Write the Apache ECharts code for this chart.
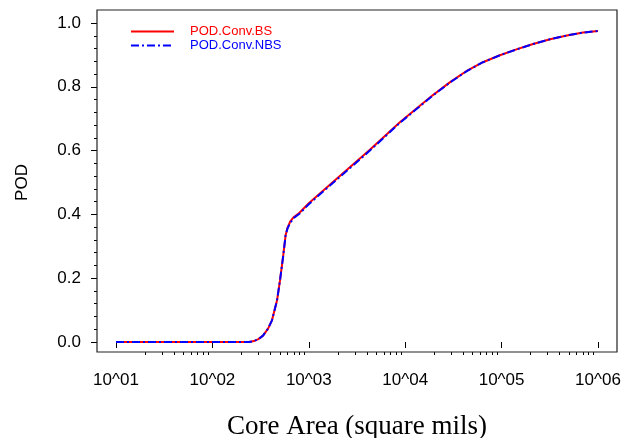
<!DOCTYPE html>
<html>
<head>
<meta charset="utf-8">
<script src="https://cdn.jsdelivr.net/npm/echarts@6/dist/echarts.min.js"></script>
<style>
  html, body { margin: 0; padding: 0; background: #fff; }
  #chart { width: 631px; height: 438px; }
</style>
</head>
<body>
<div id="chart"></div>
<script>
// Core area (square mils) at which POD was evaluated
const coreAreaBS = [10, 100, 200, 240, 270, 300, 335, 378, 415, 468, 502, 540, 575, 600, 640, 700, 800,
  1000, 2000, 4300, 8800, 13200, 19400, 29000, 44000, 64000, 96000, 145000, 212000, 318000, 476000, 700000, 1000000];
const podBS = [0, 0, 0, 0, 0.003, 0.009, 0.02, 0.042, 0.068, 0.13, 0.192, 0.265, 0.335, 0.357, 0.377, 0.392, 0.405,
  0.435, 0.515, 0.603, 0.689, 0.733, 0.774, 0.814, 0.851, 0.877, 0.899, 0.918, 0.934, 0.949, 0.961, 0.970, 0.975];

const coreAreaNBS = coreAreaBS;
const podNBS = [0, 0, 0, 0, 0.003, 0.009, 0.02, 0.042, 0.068, 0.13, 0.192, 0.265, 0.335, 0.355, 0.373, 0.389, 0.402,
  0.432, 0.512, 0.600, 0.687, 0.731, 0.773, 0.813, 0.850, 0.877, 0.899, 0.918, 0.934, 0.949, 0.961, 0.970, 0.975];

// Decade labels and minor (2..9 x 10^n) tick positions for the log axis
const decadeTicks = [10, 100, 1000, 10000, 100000, 1000000];
const decadeLabels = ['10^01', '10^02', '10^03', '10^04', '10^05', '10^06'];
const minorTicks = [];
for (let d = 10; d < 1000000; d *= 10) {
  for (let k = 2; k <= 9; k++) minorTicks.push(k * d);
}
// the minor tick axis is linear in decades (log10 of the area)
const minorTickExps = minorTicks.map(v => Math.log10(v));

const pairs = (xs, ys) => xs.map((x, i) => [x, ys[i]]);

const chart = echarts.init(document.getElementById('chart'), null, { renderer: 'canvas' });
const axisFont = { fontFamily: 'Liberation Sans, Arial, sans-serif', fontSize: 17, color: '#000' };

chart.setOption({
  animation: false,
  backgroundColor: '#fff',
  grid: { left: 116, right: 33, top: 23, bottom: 96, containLabel: false, outerBoundsMode: 'none' },
  legend: {
    orient: 'vertical',
    left: 125,
    top: 20,
    itemWidth: 43,
    itemHeight: 12,
    itemGap: 1,
    itemStyle: { opacity: 0 },
    textStyle: { fontFamily: 'Liberation Sans, Arial, sans-serif', fontSize: 13, padding: [0, 0, 0, 11] },
    data: [
      { name: 'POD.Conv.BS', textStyle: { color: '#ff0000' } },
      { name: 'POD.Conv.NBS', textStyle: { color: '#0000ff' } }
    ]
  },
  graphic: [{
    type: 'rect',
    shape: { x: 97, y: 10, width: 520, height: 342 },
    style: { fill: 'none', stroke: '#222', lineWidth: 1.2 },
    silent: true,
    z: 10
  }],
  xAxis: [{
    type: 'log',
    logBase: 10,
    min: 10,
    max: 1000000,
    position: 'bottom',
    offset: 10,
    axisLine: { show: false },
    axisTick: { show: true, length: 6, lineStyle: { color: '#000' }, customValues: decadeTicks },
    axisLabel: {
      ...axisFont,
      margin: 20,
      customValues: decadeTicks,
      formatter: v => decadeLabels[decadeTicks.indexOf(Math.round(v))] || ''
    },
    splitLine: { show: false },
    name: 'Core Area (square mils)',
    nameLocation: 'middle',
    nameGap: 61,
    nameTextStyle: { fontFamily: 'Liberation Serif, Times New Roman, serif', fontSize: 27, color: '#000' }
  }, {
    type: 'value',
    min: 1,
    max: 6,
    position: 'bottom',
    offset: 10,
    axisLine: { show: false },
    axisTick: { show: true, length: 3, lineStyle: { color: '#000' }, customValues: minorTickExps },
    axisLabel: { show: false },
    splitLine: { show: false }
  }],
  yAxis: {
    type: 'value',
    min: 0,
    max: 1,
    interval: 0.2,
    offset: 19,
    axisLine: { show: false },
    axisTick: { show: true, length: 6, lineStyle: { color: '#000' } },
    minorTick: { show: true, splitNumber: 5, length: 3, lineStyle: { color: '#000' } },
    axisLabel: { ...axisFont, margin: 16, formatter: v => v.toFixed(1) },
    splitLine: { show: false },
    name: 'POD',
    nameLocation: 'middle',
    nameRotate: 90,
    nameGap: 66,
    nameTextStyle: { fontFamily: 'Liberation Sans, Arial, sans-serif', fontSize: 17, color: '#000' }
  },
  series: [{
    name: 'POD.Conv.BS',
    type: 'line',
    xAxisIndex: 0,
    data: pairs(coreAreaBS, podBS),
    showSymbol: false,
    symbol: 'none',
    smooth: false,
    color: '#ff0000',
    lineStyle: { color: '#ff0000', width: 2 },
    z: 2
  }, {
    name: 'POD.Conv.NBS',
    type: 'line',
    xAxisIndex: 0,
    data: pairs(coreAreaNBS, podNBS),
    showSymbol: false,
    symbol: 'none',
    smooth: false,
    color: '#0000ff',
    lineStyle: { color: '#0000ff', width: 2, type: [8, 3, 2, 3] },
    z: 3
  }]
});
</script>
</body>
</html>
